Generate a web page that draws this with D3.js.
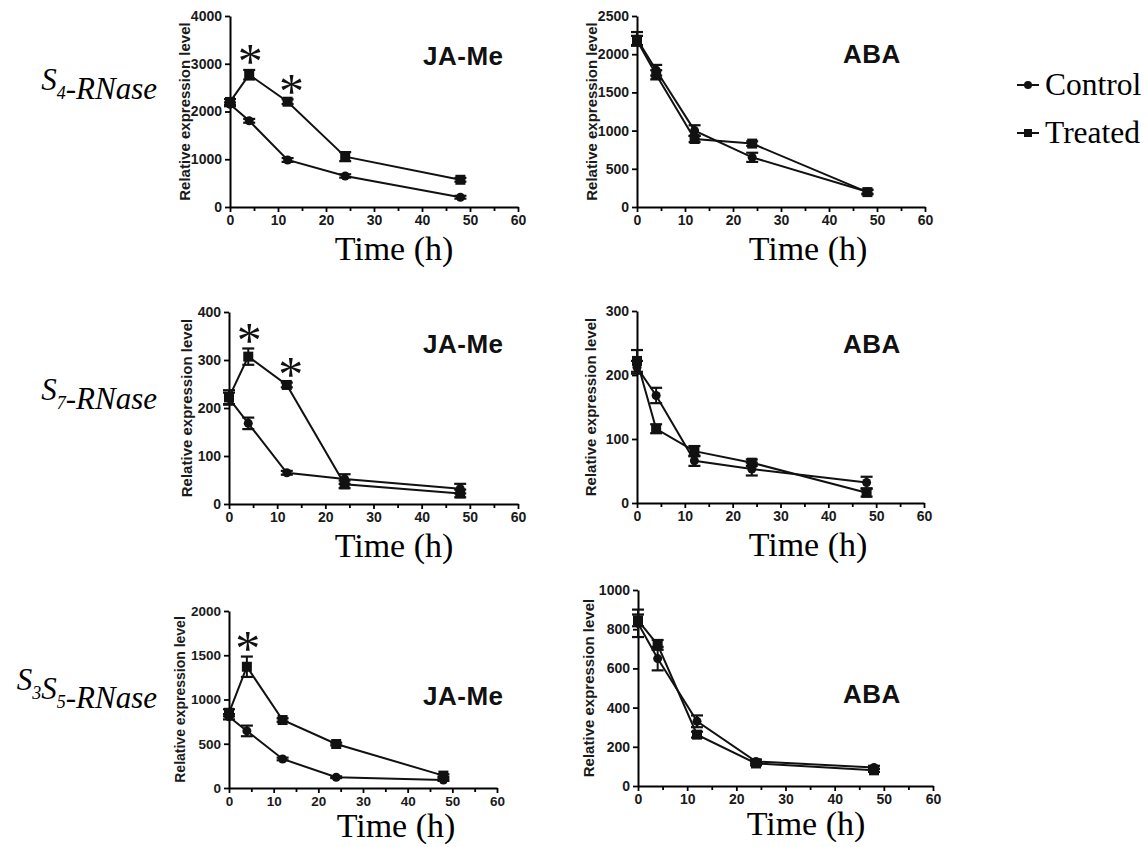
<!DOCTYPE html>
<html>
<head>
<meta charset="utf-8">
<script src="https://cdn.jsdelivr.net/npm/d3@7/dist/d3.min.js"></script>
<style>
  html, body { margin: 0; padding: 0; background: #fff; }
  svg { display: block; }
</style>
</head>
<body>
<script>
// ---------- DATA ----------
const times = [0, 4, 12, 24, 48];
const xTicks = [0, 10, 20, 30, 40, 50, 60];
const xMinorTicks = [5, 15, 25, 35, 45, 55];
const seriesNames = ["Control", "Treated"];
const rowLabels = [["S", "4", "-RNase"], ["S", "7", "-RNase"], ["S", "3", "S", "5", "-RNase"]];
const treatmentLabels = ["JA-Me", "ABA"];
const xTitle = "Time (h)";
const yTitle = "Relative expression level";

// S4-RNase, JA-Me
const s4JaCtrl = [2150, 1805, 985, 650, 205];
const s4JaCtrlErr = [40, 40, 40, 35, 30];
const s4JaTrt = [2200, 2770, 2205, 1055, 570];
const s4JaTrtErr = [60, 100, 50, 95, 40];
const s4JaStars = [4, 12];
const s4JaYTicks = [0, 1000, 2000, 3000, 4000];

// S4-RNase, ABA
const s4AbaCtrl = [2200, 1790, 1000, 650, 200];
const s4AbaCtrlErr = [90, 70, 70, 60, 25];
const s4AbaTrt = [2180, 1730, 890, 830, 195];
const s4AbaTrtErr = [60, 60, 40, 30, 30];
const s4AbaYTicks = [0, 500, 1000, 1500, 2000, 2500];

// S7-RNase, JA-Me
const s7JaCtrl = [220, 168, 65, 52, 32];
const s7JaCtrlErr = [12, 12, 4, 10, 10];
const s7JaTrt = [222, 307, 248, 41, 22];
const s7JaTrtErr = [15, 17, 5, 8, 8];
const s7JaStars = [4, 12];
const s7JaYTicks = [0, 100, 200, 300, 400];

// S7-RNase, ABA
const s7AbaCtrl = [212, 168, 66, 53, 32];
const s7AbaCtrlErr = [10, 12, 8, 10, 9];
const s7AbaTrt = [222, 116, 81, 63, 16];
const s7AbaTrtErr = [17, 7, 8, 5, 6];
const s7AbaYTicks = [0, 100, 200, 300];

// S3S5-RNase, JA-Me
const s35JaCtrl = [805, 645, 328, 122, 90];
const s35JaCtrlErr = [30, 60, 15, 10, 10];
const s35JaTrt = [850, 1370, 768, 497, 140];
const s35JaTrtErr = [40, 115, 20, 15, 15];
const s35JaStars = [4];
const s35JaYTicks = [0, 500, 1000, 1500, 2000];

// S3S5-RNase, ABA
const s35AbaCtrl = [830, 650, 330, 125, 95];
const s35AbaCtrlErr = [70, 60, 30, 10, 8];
const s35AbaTrt = [845, 720, 262, 115, 80];
const s35AbaTrtErr = [30, 25, 15, 10, 8];
const s35AbaYTicks = [0, 200, 400, 600, 800, 1000];

// ---------- LAYOUT ----------
const panels = [
  {x0: 230, x1: 518, yTop: 16, yBot: 207, yMax: 4000, yTicks: s4JaYTicks, ctrl: s4JaCtrl, ctrlErr: s4JaCtrlErr, trt: s4JaTrt, trtErr: s4JaTrtErr, stars: s4JaStars, label: treatmentLabels[0], labelX: 423, labelY: 65, timeX: 394, timeY: 260, titleX: 184},
  {x0: 637, x1: 925, yTop: 16, yBot: 207, yMax: 2500, yTicks: s4AbaYTicks, ctrl: s4AbaCtrl, ctrlErr: s4AbaCtrlErr, trt: s4AbaTrt, trtErr: s4AbaTrtErr, stars: [], label: treatmentLabels[1], labelX: 843, labelY: 63, timeX: 808, timeY: 260, titleX: 591},
  {x0: 229, x1: 518, yTop: 312, yBot: 504, yMax: 400, yTicks: s7JaYTicks, ctrl: s7JaCtrl, ctrlErr: s7JaCtrlErr, trt: s7JaTrt, trtErr: s7JaTrtErr, stars: s7JaStars, label: treatmentLabels[0], labelX: 423, labelY: 353, timeX: 394, timeY: 557, titleX: 186},
  {x0: 637, x1: 924, yTop: 311, yBot: 503, yMax: 300, yTicks: s7AbaYTicks, ctrl: s7AbaCtrl, ctrlErr: s7AbaCtrlErr, trt: s7AbaTrt, trtErr: s7AbaTrtErr, stars: [], label: treatmentLabels[1], labelX: 843, labelY: 353, timeX: 808, timeY: 556, titleX: 590},
  {x0: 229, x1: 497, yTop: 611, yBot: 788, yMax: 2000, yTicks: s35JaYTicks, ctrl: s35JaCtrl, ctrlErr: s35JaCtrlErr, trt: s35JaTrt, trtErr: s35JaTrtErr, stars: s35JaStars, label: treatmentLabels[0], labelX: 423, labelY: 705, timeX: 396, timeY: 837, titleX: 180, small: true},
  {x0: 638, x1: 933, yTop: 590, yBot: 786, yMax: 1000, yTicks: s35AbaYTicks, ctrl: s35AbaCtrl, ctrlErr: s35AbaCtrlErr, trt: s35AbaTrt, trtErr: s35AbaTrtErr, stars: [], label: treatmentLabels[1], labelX: 843, labelY: 703, timeX: 806, timeY: 835, titleX: 588}
];
const rowLabelY = [90, 400, 690];

const svg = d3.select("body").append("svg").attr("width", 1148).attr("height", 847);

const sans = "'Liberation Sans', Arial, sans-serif";
const serif = "'Liberation Serif', 'Times New Roman', serif";

panels.forEach(p => {
  const x = d3.scaleLinear().domain([0, 60]).range([p.x0, p.x1]);
  const y = d3.scaleLinear().domain([0, p.yMax]).range([p.yBot, p.yTop]);
  const g = svg.append("g");
  const fs = p.small ? 13.5 : 14;

  // x axis
  g.append("g").attr("transform", `translate(0,${p.yBot})`)
    .call(d3.axisBottom(x).tickValues(xTicks).tickSize(5).tickSizeOuter(0).tickPadding(3));
  g.append("g").attr("transform", `translate(0,${p.yBot})`)
    .call(d3.axisBottom(x).tickValues(xMinorTicks).tickSize(4).tickSizeOuter(0).tickFormat(""))
    .select(".domain").remove();
  // y axis
  g.append("g").attr("transform", `translate(${p.x0},0)`)
    .call(d3.axisLeft(y).tickValues(p.yTicks).tickSize(5).tickSizeOuter(0).tickPadding(3).tickFormat(d3.format("d")));

  g.selectAll(".domain").attr("stroke", "#000").attr("stroke-width", 2);
  g.selectAll(".tick line").attr("stroke", "#000").attr("stroke-width", 1.8);
  g.selectAll(".tick text").attr("fill", "#1a1a1a").style("font-family", sans)
    .style("font-weight", "bold").style("font-size", fs + "px");

  // y title
  g.append("text")
    .attr("transform", `translate(${p.titleX},${(p.yTop + p.yBot) / 2}) rotate(-90)`)
    .attr("text-anchor", "middle").attr("dominant-baseline", "central")
    .style("font-family", sans).style("font-weight", "bold")
    .style("font-size", (p.small ? 14 : 15) + "px").attr("fill", "#1a1a1a")
    .text(yTitle);

  // x title
  g.append("text").attr("x", p.timeX).attr("y", p.timeY)
    .attr("text-anchor", "middle").style("font-family", serif)
    .style("font-size", "34px").attr("fill", "#000").text(xTitle);

  // treatment label
  g.append("text").attr("x", p.labelX).attr("y", p.labelY)
    .style("font-family", sans).style("font-weight", "bold")
    .style("font-size", "26px").style("letter-spacing", "0.5px").attr("fill", "#111")
    .text(p.label);

  const line = d3.line().x((d, i) => x(times[i])).y(d => y(d));
  const series = [
    {vals: p.ctrl, err: p.ctrlErr, shape: "circle"},
    {vals: p.trt, err: p.trtErr, shape: "square"}
  ];
  series.forEach(s => {
    g.append("path").datum(s.vals).attr("d", line)
      .attr("fill", "none").attr("stroke", "#111").attr("stroke-width", 2);
  });
  series.forEach(s => {
    const eb = g.append("g");
    s.vals.forEach((v, i) => {
      const cx = x(times[i]);
      const yt = y(v + s.err[i]), yb = y(Math.max(0, v - s.err[i]));
      eb.append("line").attr("x1", cx).attr("x2", cx).attr("y1", yt).attr("y2", yb)
        .attr("stroke", "#111").attr("stroke-width", 2);
      [yt, yb].forEach(yy => eb.append("line").attr("x1", cx - 6).attr("x2", cx + 6)
        .attr("y1", yy).attr("y2", yy).attr("stroke", "#111").attr("stroke-width", 2.2));
    });
  });
  series.forEach(s => {
    s.vals.forEach((v, i) => {
      const cx = x(times[i]), cy = y(v);
      if (s.shape === "circle") {
        g.append("circle").attr("cx", cx).attr("cy", cy).attr("r", 4.5).attr("fill", "#111");
      } else {
        g.append("rect").attr("x", cx - 5).attr("y", cy - 5).attr("width", 10).attr("height", 10).attr("fill", "#111");
      }
    });
  });

  // significance stars
  p.stars.forEach(t => {
    const i = times.indexOf(t);
    const top = y(p.trt[i] + p.trtErr[i]);
    const sz = 50;
    g.append("text").attr("x", x(t) + (t === 12 ? 4 : 1)).attr("y", top - 15 + 0.47 * sz)
      .attr("text-anchor", "middle").style("font-family", serif)
      .style("font-size", sz + "px").attr("fill", "#111").text("*");
  });
});

// row labels
rowLabels.forEach((parts, r) => {
  const t = svg.append("text").attr("x", 157).attr("y", rowLabelY[r])
    .attr("text-anchor", "end").style("font-family", serif)
    .style("font-style", "italic").style("font-size", "31px").attr("fill", "#000");
  parts.forEach(part => {
    if (/^\d$/.test(part)) {
      t.append("tspan").attr("dy", 9).style("font-size", "18px").text(part);
      t.append("tspan").attr("dy", -9).text("");
    } else {
      t.append("tspan").text(part);
    }
  });
});

// legend
const legend = svg.append("g");
seriesNames.forEach((name, i) => {
  const ly = 85 + i * 48;
  legend.append("line").attr("x1", 1017).attr("x2", 1039).attr("y1", ly).attr("y2", ly)
    .attr("stroke", "#111").attr("stroke-width", 2);
  if (i === 0) legend.append("circle").attr("cx", 1028).attr("cy", ly).attr("r", 4).attr("fill", "#111");
  else legend.append("rect").attr("x", 1024).attr("y", ly - 4).attr("width", 8).attr("height", 8).attr("fill", "#111");
  legend.append("text").attr("x", 1045).attr("y", ly + 10).style("font-family", serif)
    .style("font-size", "31.5px").attr("fill", "#000").text(name);
});
</script>
</body>
</html>
